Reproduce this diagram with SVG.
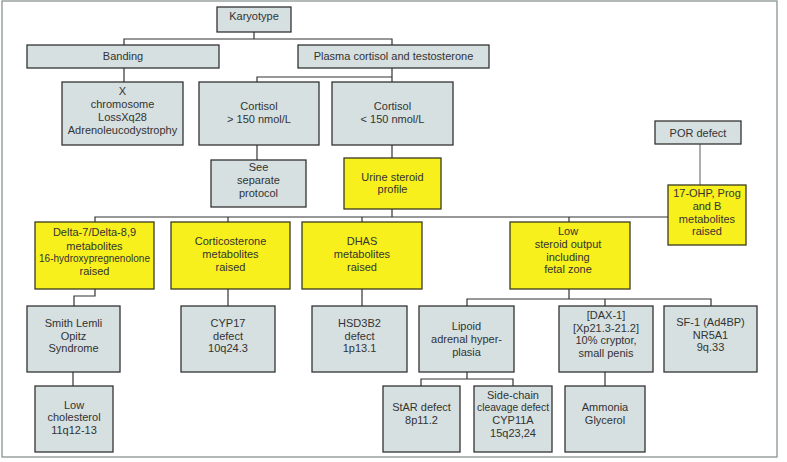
<svg xmlns="http://www.w3.org/2000/svg" width="787" height="462" viewBox="0 0 787 462">
<style>
.g{fill:#d6e0e0;stroke:#333;stroke-width:1.3}
.y{fill:#f7f01c;stroke:#3a3a22;stroke-width:1.3}
text{font-family:"Liberation Sans",Arial,sans-serif;font-size:11px;fill:#333;text-anchor:middle}
.c{fill:none;stroke:#333;stroke-width:1.2}
.c2{fill:none;stroke:#777;stroke-width:1.2}
</style>
<rect x="0" y="0" width="787" height="462" fill="#fff"/>
<rect x="2" y="1" width="775" height="456" fill="none" stroke="#8a9494" stroke-width="1.3"/>
<g id="connectors">
<path class="c" d="M254 32V39M124 45V39H392V45"/>
<path class="c" d="M124 68V82"/>
<path class="c" d="M392 68V82M257 82V77H392"/>
<path class="c" d="M257 145V160"/>
<path class="c" d="M392 145V158"/>
<path class="c2" d="M700 144V185"/>
<path class="c" d="M392 209V217M95 222V217H668M228 217V222M362 217V222M569 217V222"/>
<path class="c" d="M95 289V296H74V306"/>
<path class="c" d="M73 372V386"/>
<path class="c" d="M228 289V306"/>
<path class="c" d="M362 289V306"/>
<path class="c" d="M569 289V299M467 306V299H711V306M605 299V306"/>
<path class="c" d="M467 372V379M421 386V379H513V386"/>
<path class="c" d="M605 372V386"/>
</g>
<g id="karyotype"><rect class="g" x="217" y="7" width="74" height="25"/><text x="254" y="20">Karyotype</text></g>
<g id="banding"><rect class="g" x="27" y="45" width="192" height="23"/><text x="123" y="60">Banding</text></g>
<g id="plasma"><rect class="g" x="298" y="45" width="191" height="23"/><text x="393.5" y="60">Plasma cortisol and testosterone</text></g>
<g id="xchrom"><rect class="g" x="62" y="82" width="121" height="63"/><text x="122.5" y="94.5">X</text><text x="122.5" y="107.5">chromosome</text><text x="122.5" y="120.5">LossXq28</text><text x="122.5" y="133.5">Adrenoleucodystrophy</text></g>
<g id="cortisol-high"><rect class="g" x="199" y="82" width="120" height="63"/><text x="259" y="110">Cortisol</text><text x="259" y="123">&gt; 150 nmol/L</text></g>
<g id="cortisol-low"><rect class="g" x="332" y="82" width="121" height="63"/><text x="392.5" y="110">Cortisol</text><text x="392.5" y="123">&lt; 150 nmol/L</text></g>
<g id="see-separate"><rect class="g" x="211" y="160" width="95" height="47"/><text x="258.5" y="171">See</text><text x="258.5" y="184">separate</text><text x="258.5" y="197">protocol</text></g>
<g id="urine"><rect class="y" x="344" y="158" width="97" height="51"/><text x="392.5" y="180.5">Urine steroid</text><text x="392.5" y="193">profile</text></g>
<g id="por"><rect class="g" x="655" y="121" width="86" height="23"/><text x="698" y="136.5">POR defect</text></g>
<g id="ohp"><rect class="y" x="668" y="185" width="78" height="60"/><text x="707" y="197">17-OHP, Prog</text><text x="707" y="210">and B</text><text x="707" y="222.5">metabolites</text><text x="707" y="235">raised</text></g>
<g id="delta"><rect class="y" x="35" y="222" width="119" height="67"/><text x="94.5" y="236">Delta-7/Delta-8,9</text><text x="94.5" y="249.5">metabolites</text><text x="94.5" y="262" textLength="111" lengthAdjust="spacingAndGlyphs">16-hydroxypregnenolone</text><text x="94.5" y="274.5">raised</text></g>
<g id="corticosterone"><rect class="y" x="171" y="222" width="119" height="67"/><text x="230.5" y="245">Corticosterone</text><text x="230.5" y="258">metabolites</text><text x="230.5" y="270.5">raised</text></g>
<g id="dhas"><rect class="y" x="302" y="222" width="120" height="67"/><text x="362" y="245">DHAS</text><text x="362" y="258">metabolites</text><text x="362" y="270.5">raised</text></g>
<g id="low-steroid"><rect class="y" x="510" y="222" width="120" height="67"/><text x="568" y="235">Low</text><text x="568" y="247.5">steroid output</text><text x="568" y="260.5">including</text><text x="568" y="273">fetal zone</text></g>
<g id="smith"><rect class="g" x="27" y="306" width="93" height="66"/><text x="73.5" y="327">Smith Lemli</text><text x="73.5" y="339.5">Opitz</text><text x="73.5" y="352">Syndrome</text></g>
<g id="low-chol"><rect class="g" x="35" y="386" width="78" height="66"/><text x="74" y="409">Low</text><text x="74" y="421">cholesterol</text><text x="74" y="433.5">11q12-13</text></g>
<g id="cyp17"><rect class="g" x="181" y="306" width="94" height="66"/><text x="228" y="327">CYP17</text><text x="228" y="339.5">defect</text><text x="228" y="352">10q24.3</text></g>
<g id="hsd3b2"><rect class="g" x="312" y="306" width="95" height="66"/><text x="359.5" y="327">HSD3B2</text><text x="359.5" y="339.5">defect</text><text x="359.5" y="352">1p13.1</text></g>
<g id="lipoid"><rect class="g" x="419" y="306" width="95" height="66"/><text x="466.5" y="330">Lipoid</text><text x="466.5" y="343">adrenal hyper-</text><text x="466.5" y="356">plasia</text></g>
<g id="dax"><rect class="g" x="559" y="306" width="94" height="66"/><text x="606" y="319">[DAX-1]</text><text x="606" y="331.5">[Xp21.3-21.2]</text><text x="606" y="344">10% cryptor,</text><text x="606" y="357">small penis</text></g>
<g id="sf1"><rect class="g" x="664" y="306" width="93" height="66"/><text x="710.5" y="326">SF-1 (Ad4BP)</text><text x="710.5" y="338.5">NR5A1</text><text x="710.5" y="351">9q.33</text></g>
<g id="star"><rect class="g" x="383" y="386" width="77" height="66"/><text x="421.5" y="411">StAR defect</text><text x="421.5" y="424">8p11.2</text></g>
<g id="side-chain"><rect class="g" x="474" y="386" width="78" height="66"/><text x="513" y="399">Side-chain</text><text x="513" y="411" textLength="72" lengthAdjust="spacingAndGlyphs">cleavage defect</text><text x="513" y="424">CYP11A</text><text x="513" y="436.5">15q23,24</text></g>
<g id="ammonia"><rect class="g" x="565" y="386" width="80" height="66"/><text x="605" y="411">Ammonia</text><text x="605" y="424">Glycerol</text></g>
</svg>
